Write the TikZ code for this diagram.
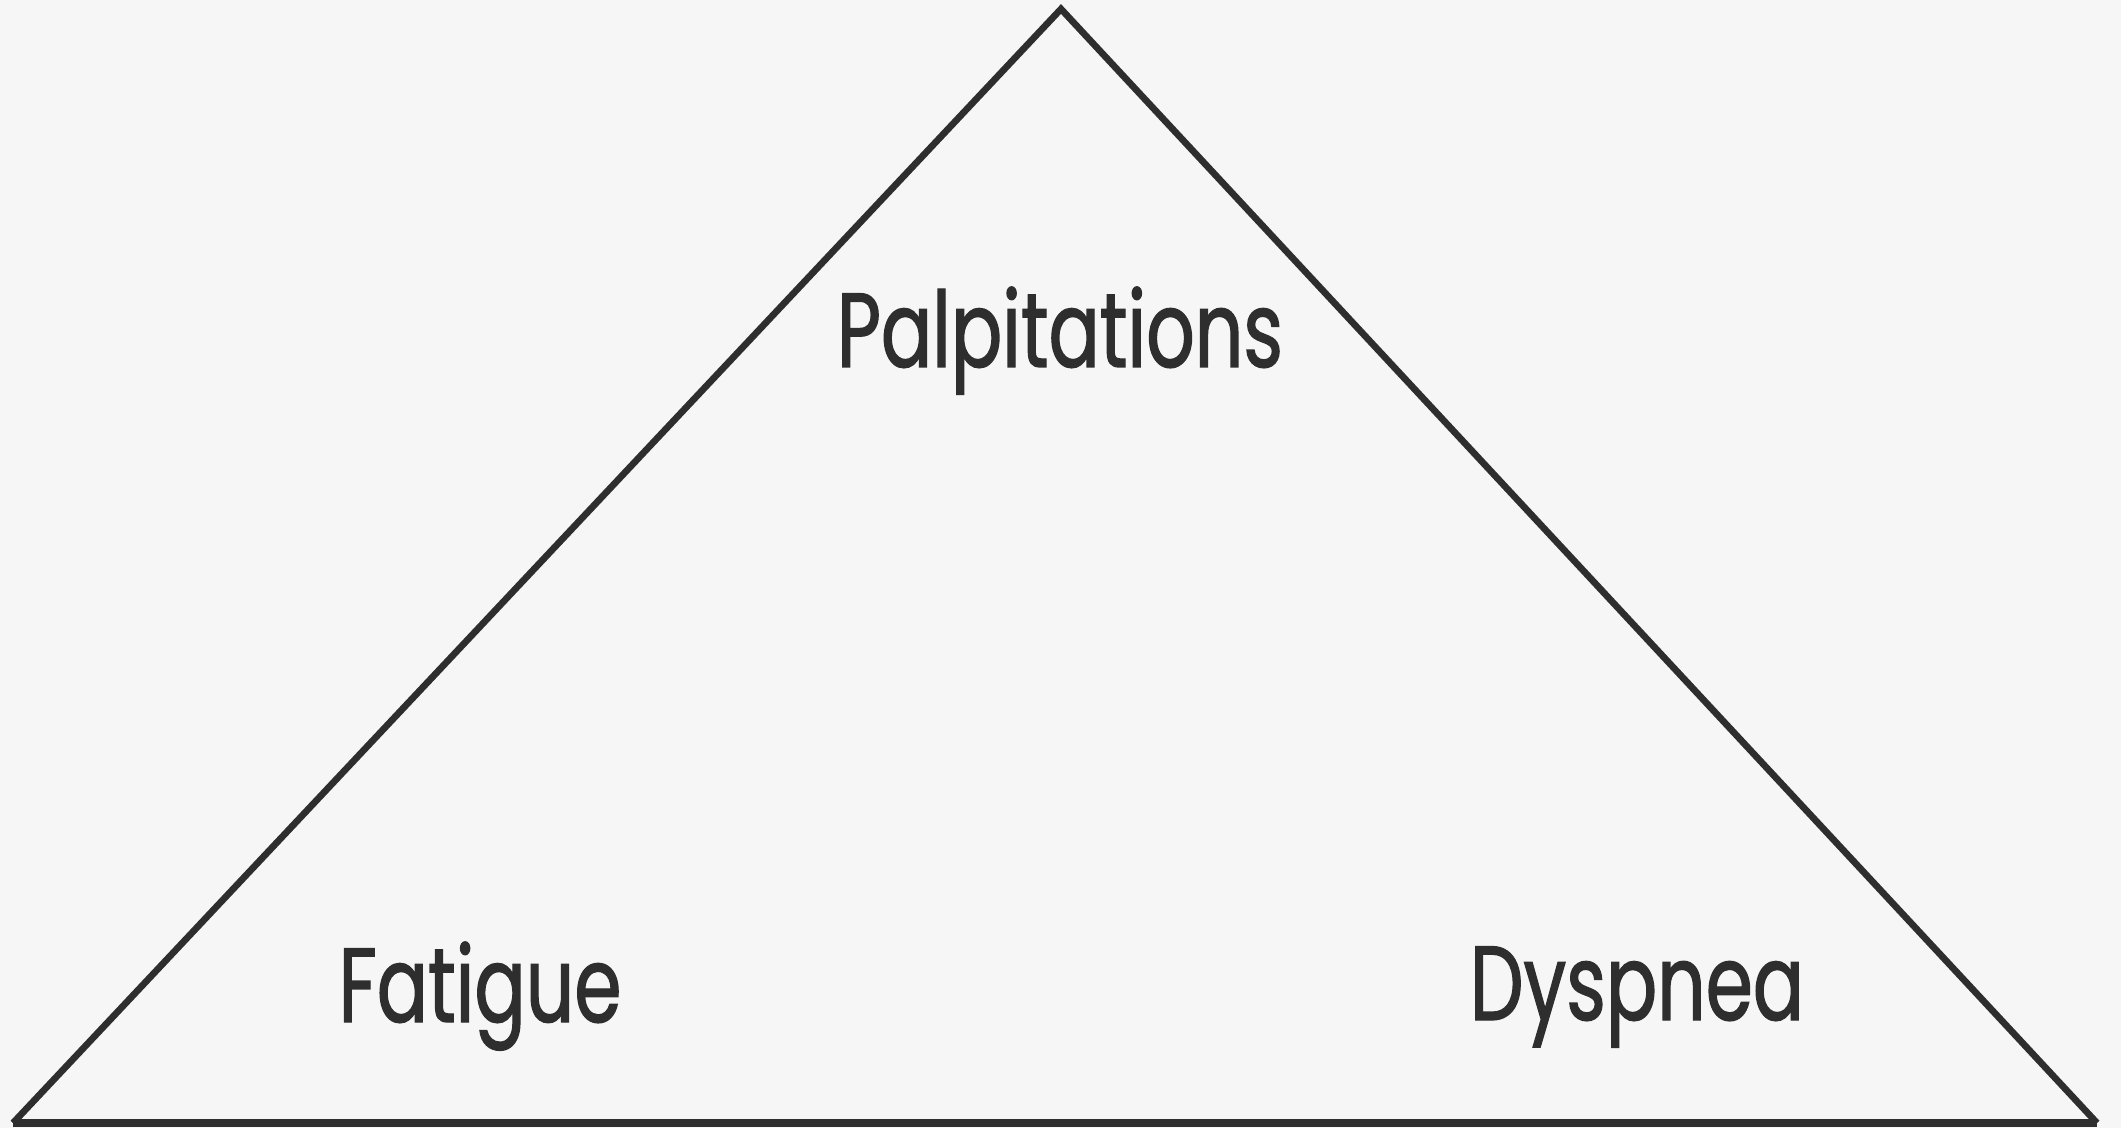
\documentclass[tikz,border=0pt]{standalone}
\usepackage{fontspec}
\setmainfont{Poppins}[FakeStretch=0.72, FakeBold=1.2]
\usepackage{xcolor}
\usetikzlibrary{positioning}

\definecolor{inkgray}{HTML}{2E2E2E}
\definecolor{paper}{HTML}{F6F6F6}

\begin{document}
\begin{tikzpicture}[
    x=1cm, y=1cm,
    edge_style/.style={inkgray, line width=1.9pt, line join=miter},
    base_style/.style={inkgray, line width=2.4pt},
    text_style/.style={inkgray, anchor=base, inner sep=0pt, font=\fontsize{30}{36}\selectfont}
]
    % Background
    \fill[paper] (0,0) rectangle (21.21,11.28);
    \useasboundingbox (0,0) rectangle (21.21,11.28);

    % Coordinates
    \coordinate (apex) at (10.61,11.19);
    \coordinate (left) at (0.13,0.05);
    \coordinate (right) at (20.97,0.05);

    % Triangle
    \draw[edge_style] (left) -- (apex) -- (right);
    \draw[base_style] (left) -- (right);

    % Labels
    \node[text_style] (palp) at (10.60,7.61) {Palpitations};
    \node[text_style] (fatigue) at (4.80,1.06) {Fatigue};
    \node[text_style] (dyspnea) at (16.37,1.08) {Dyspnea};
\end{tikzpicture}
\end{document}
